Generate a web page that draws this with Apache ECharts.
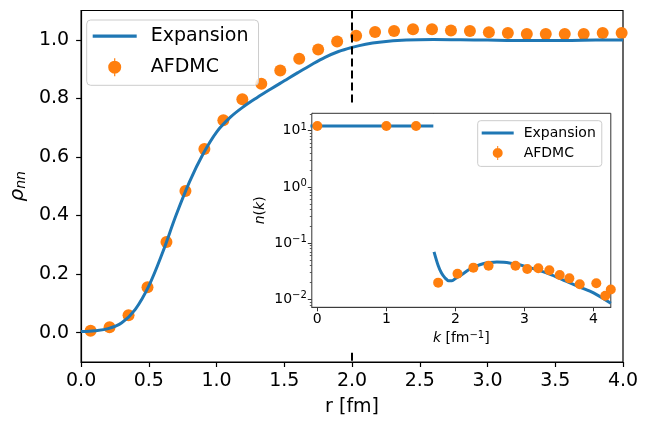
<!DOCTYPE html>
<html>
<head>
<meta charset="utf-8">
<script src="https://cdn.jsdelivr.net/npm/echarts@6/dist/echarts.min.js"></script>
<style>
html, body { margin: 0; padding: 0; background: #fff; }
#chart { width: 654px; height: 422px; }
</style>
</head>
<body>
<div id="chart"></div>
<script>
// main panel: pair density rho_nn(r)
const rExp = [0, 0.1, 0.2, 0.3, 0.4, 0.5, 0.6, 0.7, 0.8, 0.9, 1.0, 1.1, 1.2, 1.3, 1.4, 1.5, 1.6, 1.7, 1.8, 1.9, 2.0, 2.1, 2.2, 2.4, 2.6, 2.8, 3.0, 3.2, 3.4, 3.6, 3.8, 4.0];
const rhoExp = [0.004, 0.007, 0.014, 0.034, 0.080, 0.160, 0.272, 0.400, 0.515, 0.610, 0.685, 0.735, 0.772, 0.803, 0.832, 0.860, 0.888, 0.915, 0.940, 0.960, 0.974, 0.985, 0.992, 0.999, 1.001, 1.000, 0.999, 0.998, 0.998, 0.998, 0.999, 0.999];
const rAfdmc = [0.07, 0.21, 0.35, 0.49, 0.63, 0.77, 0.91, 1.05, 1.19, 1.33, 1.47, 1.61, 1.75, 1.89, 2.03, 2.17, 2.31, 2.45, 2.59, 2.73, 2.87, 3.01, 3.15, 3.29, 3.43, 3.57, 3.71, 3.85, 3.99];
const rhoAfdmc = [0.007, 0.019, 0.060, 0.155, 0.310, 0.484, 0.627, 0.725, 0.797, 0.850, 0.895, 0.935, 0.967, 0.994, 1.014, 1.027, 1.030, 1.036, 1.036, 1.032, 1.030, 1.026, 1.023, 1.020, 1.020, 1.020, 1.020, 1.023, 1.023];

// inset: momentum distribution n(k)
const kExpLow = [-0.1, 1.68];
const nExpLow = [12.1, 12.1];
const kExpHigh = [1.69, 1.75, 1.8, 1.85, 1.9, 1.95, 2.0, 2.1, 2.2, 2.3, 2.4, 2.5, 2.6, 2.7, 2.8, 2.9, 3.0, 3.2, 3.4, 3.6, 3.8, 4.0, 4.25];
const nExpHigh = [0.070, 0.040, 0.029, 0.024, 0.0215, 0.0215, 0.0235, 0.028, 0.034, 0.039, 0.043, 0.045, 0.046, 0.0455, 0.044, 0.042, 0.039, 0.033, 0.027, 0.021, 0.0165, 0.013, 0.0085];
const kAfdmc = [0, 1.0, 1.43, 1.75, 2.03, 2.26, 2.48, 2.87, 3.04, 3.2, 3.36, 3.51, 3.65, 3.8, 4.04, 4.17, 4.25];
const nAfdmc = [12.1, 12.1, 12.1, 0.0198, 0.0286, 0.0366, 0.0397, 0.0397, 0.0347, 0.0356, 0.0328, 0.027, 0.0236, 0.0185, 0.0193, 0.0116, 0.015];

const rCut = 2.0;
const kF = 1.68;
const mainYTicks = [0, 0.2, 0.4, 0.6, 0.8, 1.0];
const insetXTicks = [0, 1, 2, 3, 4];
const insetYTicks = [0.01, 0.1, 1, 10];
const insetYMinor = [0.008, 0.009, 0.02, 0.03, 0.04, 0.05, 0.06, 0.07, 0.08, 0.09, 0.2, 0.3, 0.4, 0.5, 0.6, 0.7, 0.8, 0.9, 2, 3, 4, 5, 6, 7, 8, 9, 20];

const BLUE = '#1f77b4', ORANGE = '#ff7f0e';
const FONT = 'DejaVu Sans';
const zip = (a, b) => a.map((v, i) => [v, b[i]]);

// legend icons: plain line, and marker with error bar
const lineIconBig = 'path://M0,0h44v3.2h-44z';
const lineIconSmall = 'path://M0,0h32v3h-32z';
const errIconBig = 'path://M5.9,0v18h1.2v-18z M0,9a6.5,6.5 0 1,0 13,0a6.5,6.5 0 1,0 -13,0z';
const errIconSmall = 'path://M4.5,0v14h1v-14z M0,7a5,5 0 1,0 10,0a5,5 0 1,0 -10,0z';

const supFmt = v => {
    const e = Math.round(Math.log10(v));
    return '{b|10}{s|' + (e < 0 ? '\u2212' + (-e) : e) + '}';
};

let myChart = echarts.init(document.getElementById('chart'), null, {renderer: 'canvas'});
myChart.setOption({
    animation: false,
    textStyle: {fontFamily: FONT},
    grid: [
        {left: 77, top: 10.5, width: 546, height: 354, show: true, borderColor: '#000', borderWidth: 1.2, backgroundColor: '#fff'},
        {left: 311.8, top: 113.3, width: 299, height: 194, show: true, borderColor: '#333', borderWidth: 1, backgroundColor: '#fff', z: 10}
    ],
    legend: [
        {
            left: 86.7, top: 20, orient: 'vertical',
            padding: [6.7, 10, 8.6, 6], itemGap: 12,
            itemWidth: 44, itemHeight: 18,
            backgroundColor: 'rgba(255,255,255,0.8)', borderColor: '#cccccc', borderWidth: 1, borderRadius: 4,
            textStyle: {fontSize: 19, color: '#000', fontFamily: FONT, padding: [0, 0, 0, 9]},
            data: [{name: 'Expansion', icon: lineIconBig}, {name: 'AFDMC', icon: errIconBig}],
            selectedMode: false
        },
        {
            left: 477.7, top: 120.7, orient: 'vertical', z: 20,
            padding: [5.3, 6, 6.4, 4], itemGap: 6,
            itemWidth: 32, itemHeight: 14,
            backgroundColor: 'rgba(255,255,255,0.8)', borderColor: '#cccccc', borderWidth: 1, borderRadius: 3,
            textStyle: {fontSize: 14, color: '#000', fontFamily: FONT, padding: [0, 0, 0, 5]},
            data: [{name: 'Expansion', icon: lineIconSmall}, {name: 'AFDMC', icon: errIconSmall}],
            selectedMode: false
        }
    ],
    xAxis: [
        {
            gridIndex: 0, type: 'value', min: 0, max: 4, interval: 0.5,
            name: 'r [fm]', nameLocation: 'middle', nameGap: 36,
            nameTextStyle: {fontSize: 19, color: '#000'},
            axisLine: {onZero: false, lineStyle: {color: '#000', width: 1.2}},
            axisTick: {length: 5, lineStyle: {color: '#000', width: 1.2}},
            axisLabel: {fontSize: 19, color: '#000', margin: 10, formatter: v => v.toFixed(1)},
            splitLine: {show: false}
        },
        {
            gridIndex: 1, type: 'value', min: -0.08, max: 4.25,
            name: '{i|k} [fm{s|\u22121}]', nameLocation: 'middle', nameGap: 23,
            nameTextStyle: {fontSize: 14, color: '#000', rich: {
                i: {fontSize: 14, fontStyle: 'italic'},
                s: {fontSize: 10, padding: [0, 0, 7, 0]}
            }},
            axisLine: {onZero: false, lineStyle: {color: '#333', width: 1}},
            axisTick: {length: 4, customValues: insetXTicks, lineStyle: {color: '#333'}},
            axisLabel: {fontSize: 14, color: '#000', margin: 5, customValues: insetXTicks, formatter: v => String(Math.round(v))},
            splitLine: {show: false}
        }
    ],
    yAxis: [
        {
            gridIndex: 0, type: 'value', min: -0.1, max: 1.1,
            name: '{r|\u03c1}{s|nn}', nameLocation: 'middle', nameGap: 47,
            nameTextStyle: {fontSize: 19, color: '#000', rich: {
                r: {fontSize: 20, fontStyle: 'italic'},
                s: {fontSize: 14, fontStyle: 'italic', padding: [6, 0, 0, 0]}
            }},
            axisLine: {onZero: false, lineStyle: {color: '#000', width: 1.2}},
            axisTick: {length: 5, customValues: mainYTicks, lineStyle: {color: '#000', width: 1.2}},
            axisLabel: {fontSize: 19, color: '#000', margin: 12, customValues: mainYTicks, formatter: v => v.toFixed(1)},
            splitLine: {show: false}
        },
        {
            gridIndex: 1, type: 'log', logBase: 10, min: 0.00721, max: 20.4, position: 'left',
            name: '{i|n}({i|k})', nameLocation: 'middle', nameGap: 44,
            nameTextStyle: {fontSize: 14, color: '#000', rich: {i: {fontSize: 14, fontStyle: 'italic'}}},
            axisLine: {onZero: false, lineStyle: {color: '#333', width: 1}},
            axisTick: {length: 4, customValues: insetYTicks, lineStyle: {color: '#333'}},
            axisLabel: {
                fontSize: 14, color: '#000', margin: 5, customValues: insetYTicks, formatter: supFmt,
                rich: {b: {fontSize: 14}, s: {fontSize: 10, padding: [0, 0, 7, 0]}}
            },
            splitLine: {show: false}
        },
        {
            gridIndex: 1, type: 'log', logBase: 10, min: 0.00721, max: 20.4, position: 'left',
            axisLine: {show: false, onZero: false},
            axisTick: {length: 2, customValues: insetYMinor, lineStyle: {color: '#333', width: 0.8}},
            axisLabel: {show: false},
            splitLine: {show: false}
        }
    ],
    series: [
        {
            name: 'Expansion', type: 'line', xAxisIndex: 0, yAxisIndex: 0,
            data: zip(rExp, rhoExp), smooth: 0.35, symbol: 'none',
            lineStyle: {color: BLUE, width: 3}, itemStyle: {color: BLUE},
            markLine: {
                silent: true, symbol: ['none', 'none'], label: {show: false},
                lineStyle: {color: '#000', width: 2, type: [8, 4]},
                data: [
                    [{coord: [rCut, 1.1]}, {coord: [rCut, 0.775]}],
                    [{coord: [rCut, -0.068]}, {coord: [rCut, -0.1]}]
                ]
            }
        },
        {
            name: 'AFDMC', type: 'scatter', xAxisIndex: 0, yAxisIndex: 0,
            data: zip(rAfdmc, rhoAfdmc), symbolSize: 12,
            itemStyle: {color: ORANGE, opacity: 1}
        },
        {
            name: 'Expansion', type: 'line', xAxisIndex: 1, yAxisIndex: 1, z: 12,
            data: zip(kExpLow, nExpLow), symbol: 'none',
            lineStyle: {color: BLUE, width: 3}, itemStyle: {color: BLUE}
        },
        {
            name: 'Expansion', type: 'line', xAxisIndex: 1, yAxisIndex: 1, z: 12,
            data: zip(kExpHigh, nExpHigh), smooth: 0.3, symbol: 'none',
            lineStyle: {color: BLUE, width: 3}, itemStyle: {color: BLUE}
        },
        {
            name: 'AFDMC', type: 'scatter', xAxisIndex: 1, yAxisIndex: 1, z: 13,
            data: zip(kAfdmc, nAfdmc), symbolSize: 10,
            itemStyle: {color: ORANGE, opacity: 1},
            markLine: {
                silent: true, symbol: ['none', 'none'], label: {show: false},
                lineStyle: {color: '#000', width: 1, type: [5, 2]},
                data: [{xAxis: kF}]
            }
        }
    ]
});
</script>
</body>
</html>
